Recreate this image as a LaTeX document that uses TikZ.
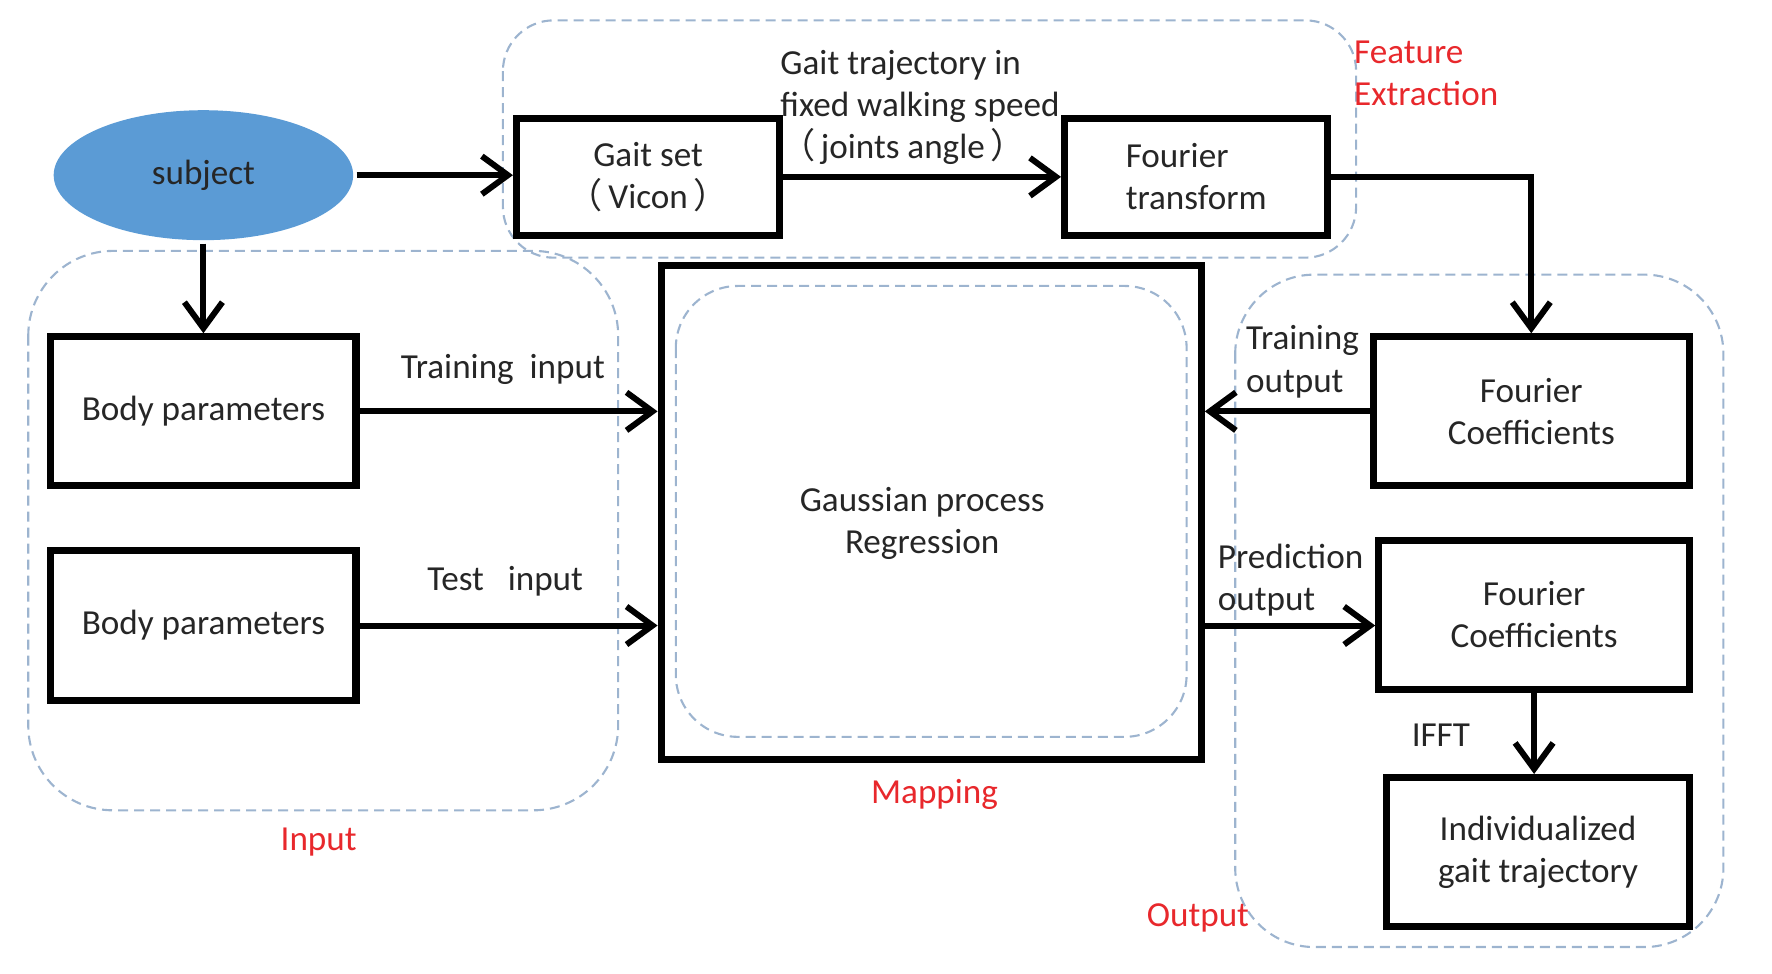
\documentclass[tikz,border=0pt]{standalone}
\usepackage{fontspec}
\setmainfont{Carlito}
\newfontfamily\cjk{Noto Sans CJK SC}
\usetikzlibrary{arrows.meta,shapes.geometric}
\definecolor{grpline}{HTML}{9DB4CF}
\definecolor{lblred}{HTML}{E8282C}
\definecolor{subjblue}{HTML}{5B9BD5}
\newcommand{\pxu}{0.113mm}
\newcommand{\lpar}{{\cjk （}\hspace{0.15em}}
\newcommand{\rpar}{\hspace{0.15em}{\cjk ）}}
\tikzset{
  blk/.style={draw,line width=2pt,align=center,inner sep=0pt,text=black!85},
  flow/.style={line width=1.7pt,-{Straight Barb[length=2.6mm,width=3.8mm,line width=1.7pt]}},
  grp/.style={grpline,line width=0.6pt,dash pattern=on 1mm off 0.6mm,rounded corners=#1},
  grptxt/.style={text=lblred},
  lbl/.style={text=black!85,align=left,inner sep=0pt},
}
\begin{document}
\begin{tikzpicture}[x=\pxu,y=-\pxu]
\useasboundingbox (0,0) rectangle (1568,861);
%------------------------------------------------ groups
\draw[grp=45*\pxu] (445,18) rectangle (1200,228);
\draw[grp=75*\pxu] (25,222) rectangle (547,717);
\draw[grp=55*\pxu] (598,253) rectangle (1050,652);
\draw[grp=70*\pxu] (1093,243) rectangle (1525,838);
\node[grptxt,align=left] (fetxt) at (1262,65) {Feature\\Extraction};
\node[grptxt] (intxt) at (282,745) {Input};
\node[grptxt] (maptxt) at (827,703) {Mapping};
\node[grptxt] (outtxt) at (1060,812) {Output};
%------------------------------------------------ blocks
\node[blk,ellipse,fill=subjblue,draw=none,minimum width=265*\pxu,minimum height=115*\pxu] (subj) at (180,155) {subject};
\node[blk,minimum width=233*\pxu,minimum height=103*\pxu] (gset) at (573.5,156.5) {Gait set\\\lpar Vicon\rpar};
\node[blk,align=left,minimum width=233*\pxu,minimum height=103*\pxu] (ftrans) at (1058.5,156.5) {Fourier\\transform};
\node[blk,minimum width=270*\pxu,minimum height=132*\pxu] (bp1) at (180,364) {Body parameters};
\node[blk,minimum width=270*\pxu,minimum height=133*\pxu] (bp2) at (180,553.5) {Body parameters};
\node[blk,minimum width=478*\pxu,minimum height=437*\pxu] (gpr) at (824,453.5) {};
\node[lbl,align=center] (gprtxt) at (816,463) {Gaussian process\\Regression};
\node[blk,minimum width=280*\pxu,minimum height=132*\pxu] (fc1) at (1355,364) {Fourier\\Coefficients};
\node[blk,minimum width=275*\pxu,minimum height=132*\pxu] (fc2) at (1357.5,544) {Fourier\\Coefficients};
\node[blk,minimum width=268*\pxu,minimum height=132*\pxu] (ind) at (1361,754) {Individualized\\gait trajectory};
%------------------------------------------------ connectors
\draw[flow] (subj.east) -- (subj.east -| gset.west);
\draw[flow] (gset) -- (ftrans);
\draw[flow] (ftrans.east) -| (fc1.north);
\draw[flow] (subj.south) -- (bp1.north);
\draw[flow] (bp1.east) -- (bp1.east -| gpr.west);
\draw[flow] (bp2.east) -- (bp2.east -| gpr.west);
\draw[flow] (fc1.west) -- (fc1.west -| gpr.east);
\draw[flow] (gpr.east |- bp2.east) -- (fc2.west |- bp2.east);
\draw[flow] (fc2.south) -- (fc2.south |- ind.north);
%------------------------------------------------ connector labels
\node[lbl,anchor=west] (gtraj) at (690,95) {Gait trajectory in\\fixed walking speed\\\lpar joints angle\rpar};
\node[lbl] (trin) at (445,327) {Training\ \ input};
\node[lbl] (tein) at (447,514) {Test\ \ \ input};
\node[lbl,anchor=west] (trout) at (1102,320) {Training\\output};
\node[lbl,anchor=west] (prout) at (1077,513) {Prediction\\output};
\node[lbl] (ifft) at (1275,651) {IFFT};
\end{tikzpicture}
\end{document}
